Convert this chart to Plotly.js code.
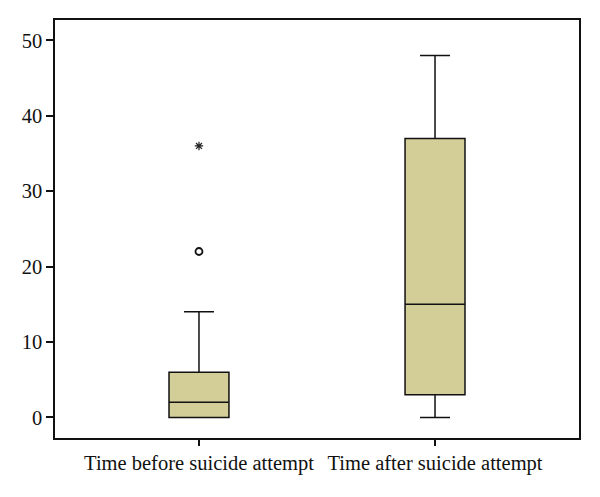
<!DOCTYPE html>
<html>
<head>
<meta charset="utf-8">
<script src="https://cdn.plot.ly/plotly-3.0.1.min.js"></script>
<style>body{margin:0;background:#fff}</style>
</head>
<body>
<div id="plot_box" style="width:600px;height:497px"></div>
<script>
var groups = ['Time before suicide attempt', 'Time after suicide attempt'];
var lowerWhisker = [0, 0];
var q1 = [0, 3];
var median = [2, 15];
var q3 = [6, 37];
var upperWhisker = [14, 48];
// outliers of the first group
var circleOutliers = [22];
var starOutliers = [36];

var boxTrace = {
  type: 'box',
  x: [0, 1],
  q1: q1,
  median: median,
  q3: q3,
  lowerfence: lowerWhisker,
  upperfence: upperWhisker,
  width: 0.254,
  whiskerwidth: 0.5,
  fillcolor: '#d3ce98',
  line: {color: '#111', width: 1.5},
  hoverinfo: 'none',
  showlegend: false
};

var circles = {
  type: 'scatter',
  mode: 'markers',
  x: circleOutliers.map(function () { return 0; }),
  y: circleOutliers,
  marker: {symbol: 'circle-open', size: 7, color: '#111', line: {width: 1.8}},
  showlegend: false
};

var stars = {
  type: 'scatter',
  mode: 'markers',
  x: starOutliers.map(function () { return 0; }),
  y: starOutliers,
  marker: {symbol: 'asterisk-open', size: 7, color: '#222', line: {width: 1.2, color: '#222'}},
  showlegend: false
};

var layout = {
  width: 600,
  height: 497,
  margin: {l: 55, r: 21, t: 20, b: 59},
  paper_bgcolor: '#fff',
  plot_bgcolor: '#fff',
  font: {family: 'Liberation Serif, Times New Roman, serif', size: 20.5, color: '#111'},
  xaxis: {
    range: [-0.61, 1.61],
    tickvals: [0, 1],
    ticktext: groups,
    ticks: 'outside',
    ticklen: 6,
    tickwidth: 1.5,
    tickcolor: '#111',
    showline: true,
    mirror: true,
    linecolor: '#111',
    linewidth: 1.5,
    showgrid: false,
    zeroline: false
  },
  yaxis: {
    range: [-2.73, 52.7],
    tickvals: [0, 10, 20, 30, 40, 50],
    ticks: 'outside',
    ticklen: 7,
    tickwidth: 1.5,
    tickcolor: '#111',
    showline: true,
    mirror: true,
    linecolor: '#111',
    linewidth: 1.5,
    showgrid: false,
    zeroline: false
  }
};

Plotly.newPlot('plot_box', [boxTrace, circles, stars], layout, {displayModeBar: false});
</script>
</body>
</html>
